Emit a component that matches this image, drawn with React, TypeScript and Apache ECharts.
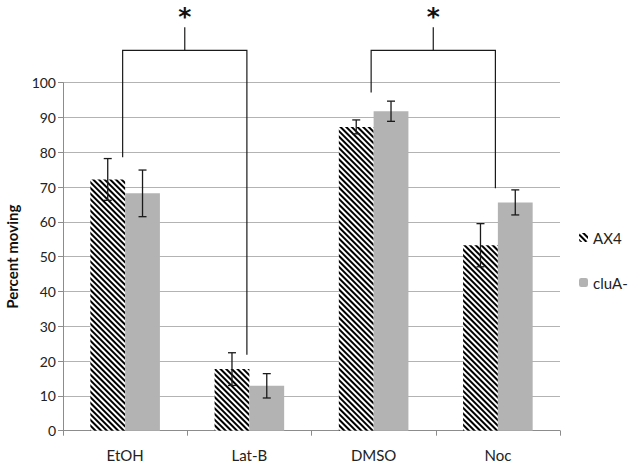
import React, { useEffect, useRef } from "react";
import * as echarts from "echarts";

const categories = ["EtOH", "Lat-B", "DMSO", "Noc"];
const ax4Values = [72.2, 17.7, 87.3, 53.3];
const ax4Err = [6.0, 4.7, 2.0, 6.2];
const cluaValues = [68.2, 12.9, 91.8, 65.6];
const cluaErr = [6.7, 3.5, 2.9, 3.6];
const yTicks = [0, 10, 20, 30, 40, 50, 60, 70, 80, 90, 100];
// [leftCat, rightCat, leftLegBottom, rightLegBottom, bracketTop, stemTop]
const brackets = [
  [0, 1, 78.6, 21.8, 109.3, 115.9],
  [2, 3, 97.2, 69.7, 109.3, 115.9],
];

const FONT = "Lato, 'Open Sans', sans-serif";

export default function App() {
  const ref = useRef<HTMLDivElement>(null);
  useEffect(() => {
    document.body.style.margin = "0";
    const chart = echarts.init(ref.current!, null, { renderer: "svg" });
    const errData = (vals: number[], errs: number[]) =>
      vals.map((v, i) => [i, v - errs[i], v + errs[i]]);
    const errRender = (off: number) => (params: any, api: any) => {
      const band = api.size([1, 0])[0];
      const cx = api.coord([api.value(0), 0])[0] + off * band * 0.28 * 0.5;
      const lo = api.coord([0, api.value(1)])[1];
      const hi = api.coord([0, api.value(2)])[1];
      const style = { stroke: "#1a1a1a", lineWidth: 1.3 };
      return {
        type: "group",
        children: [
          { type: "line", shape: { x1: cx, y1: lo, x2: cx, y2: hi }, style },
          { type: "line", shape: { x1: cx - 4, y1: lo, x2: cx + 4, y2: lo }, style },
          { type: "line", shape: { x1: cx - 4, y1: hi, x2: cx + 4, y2: hi }, style },
        ],
      };
    };
    chart.setOption({
      animation: false,
      aria: { enabled: true, decal: { show: true } },
      grid: { left: 63, right: 70, top: 82.7, bottom: 33.3, outerBoundsMode: "none", containLabel: false },
      legend: {
        data: ["AX4", "cluA-"],
        orient: "vertical",
        left: 574,
        top: 225,
        itemWidth: 9,
        itemHeight: 9,
        itemGap: 30,
        textStyle: { fontFamily: FONT, fontSize: 15, color: "#222" },
      },
      xAxis: {
        type: "category",
        data: categories,
        axisLine: { lineStyle: { color: "#8c8c8c" } },
        axisTick: { show: true, length: 5, lineStyle: { color: "#8c8c8c" } },
        axisLabel: { fontFamily: FONT, fontSize: 15, color: "#222", margin: 17 },
      },
      yAxis: {
        type: "value",
        min: 0,
        max: 100,
        interval: 10,
        name: "Percent moving",
        nameLocation: "middle",
        nameGap: 44,
        nameTextStyle: { fontFamily: FONT, fontSize: 15, fontWeight: "bold", color: "#111" },
        axisLine: { show: true, lineStyle: { color: "#8c8c8c" } },
        axisTick: { show: true, length: 5, lineStyle: { color: "#8c8c8c" } },
        splitLine: { lineStyle: { color: "#b3b3b3" } },
        axisLabel: {
          fontFamily: FONT,
          fontSize: 14,
          color: "#222",
          margin: 7,
          formatter: (v: number) => (yTicks.includes(v) ? String(v) : ""),
        },
      },
      series: [
        {
          name: "AX4",
          type: "bar",
          data: ax4Values,
          barGap: "0%",
          barCategoryGap: "44%",
          itemStyle: {
            color: "#ffffff",
            decal: {
              symbol: "rect",
              symbolSize: 1,
              color: "#000000",
              dashArrayX: [1, 0],
              dashArrayY: [2, 2],
              rotation: Math.PI / 4,
            },
          },
        },
        {
          name: "cluA-",
          type: "bar",
          data: cluaValues,
          barGap: "0%",
          barCategoryGap: "44%",
          itemStyle: { color: "#b3b3b3", decal: { symbol: "none" } },
        },
        {
          type: "custom",
          name: "errAX4",
          data: errData(ax4Values, ax4Err),
          renderItem: errRender(-1),
          encode: { x: 0, y: [1, 2] },
          z: 5,
          clip: false,
        },
        {
          type: "custom",
          name: "errClua",
          data: errData(cluaValues, cluaErr),
          renderItem: errRender(1),
          encode: { x: 0, y: [1, 2] },
          z: 5,
          clip: false,
        },
        {
          type: "custom",
          name: "brackets",
          data: brackets,
          encode: { x: 0, y: 2 },
          clip: false,
          z: 6,
          renderItem: (params: any, api: any) => {
            const band = api.size([1, 0])[0];
            const off = -0.02 * band;
            const xl = api.coord([api.value(0), 0])[0] + off;
            const xr = api.coord([api.value(1), 0])[0] + off;
            const yl = api.coord([0, api.value(2)])[1];
            const yr = api.coord([0, api.value(3)])[1];
            const yt = api.coord([0, api.value(4)])[1];
            const ys = api.coord([0, api.value(5)])[1];
            const xm = (xl + xr) / 2;
            const style = { stroke: "#1a1a1a", lineWidth: 1.2, fill: null };
            return {
              type: "group",
              children: [
                {
                  type: "polyline",
                  shape: { points: [[xl, yl], [xl, yt], [xr, yt], [xr, yr]] },
                  style,
                },
                { type: "line", shape: { x1: xm, y1: yt, x2: xm, y2: ys }, style },
                {
                  type: "text",
                  x: xm,
                  y: ys + 2,
                  style: {
                    text: "*",
                    fontFamily: "'DejaVu Sans', sans-serif",
                    fontWeight: "bold",
                    fontSize: 25,
                    fill: "#111",
                    align: "center",
                    verticalAlign: "bottom",
                  },
                },
              ],
            };
          },
        },
      ],
    });
    return () => chart.dispose();
  }, []);
  return (
    <div
      ref={ref}
      style={{ position: "fixed", left: 0, top: 0, width: 630, height: 464, background: "#fff" }}
    />
  );
}
